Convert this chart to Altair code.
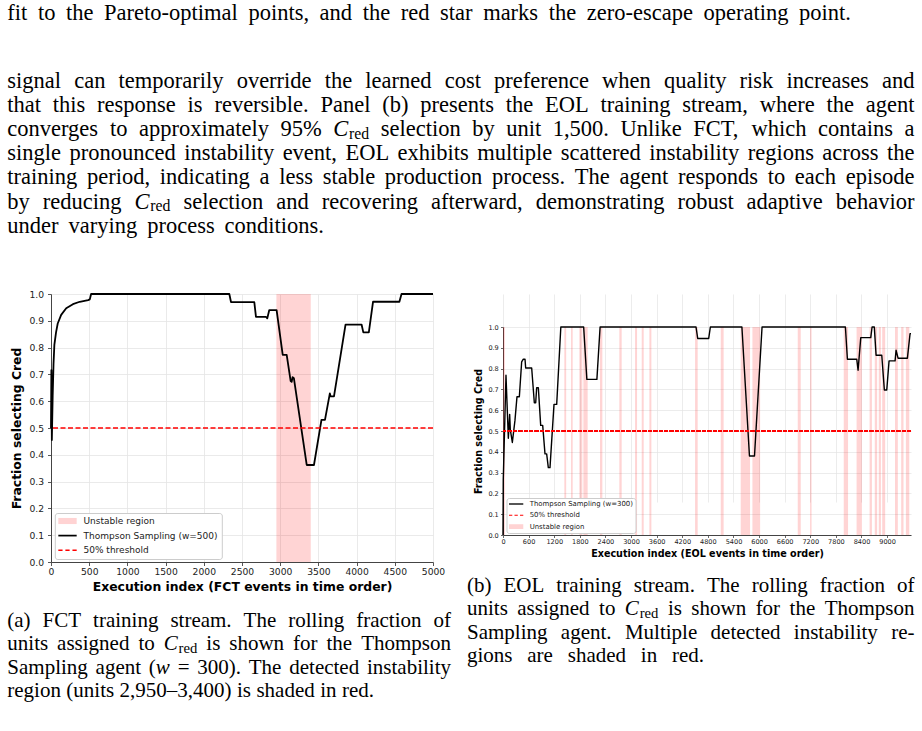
import altair as alt
import pandas as pd

# ---------------- data ----------------
fct_x = [0, 5, 11, 22, 33, 44, 66, 88, 133, 199, 287, 376, 486, 508, 525, 2334, 2356, 2661, 2683,
         2813, 2831, 2857, 2953, 3033, 3085, 3137, 3150, 3162, 3179, 3347, 3442, 3540, 3586, 3650,
         3660, 3704, 3855, 4065, 4088, 4160, 4215, 4560, 4588, 5000]
fct_y = [0.50, 0.716, 0.455, 0.62, 0.74, 0.81, 0.857, 0.89, 0.922, 0.947, 0.962, 0.971, 0.977, 0.98,
         1.0, 1.0, 0.97, 0.97, 0.915, 0.915, 0.909, 0.94, 0.94, 0.773, 0.773, 0.675, 0.672, 0.69,
         0.686, 0.362, 0.362, 0.530, 0.530, 0.629, 0.618, 0.618, 0.886, 0.886, 0.857, 0.857, 0.971,
         0.971, 1.0, 1.0]
fct_band_start = [2950]
fct_band_end = [3400]

eol_x = [0, 6, 70, 125, 156, 172, 219, 281, 328, 383, 437, 476, 516, 531, 672, 734, 766, 789, 828,
         883, 930, 984, 1023, 1062, 1101, 1195, 1258, 1355, 1890, 1965, 2200, 2275, 4523, 4562,
         4820, 4859, 5598, 5775, 5893, 6070, 8023, 8070, 8289, 8320, 8383, 8617, 8648, 8700, 8742,
         8875, 8936, 8992, 9046, 9187, 9210, 9257, 9476, 9538, 9560]
eol_y = [0.0, 0.265, 0.768, 0.465, 0.58, 0.505, 0.445, 0.552, 0.665, 0.665, 0.832, 0.845, 0.845,
         0.803, 0.803, 0.636, 0.636, 0.708, 0.708, 0.527, 0.527, 0.39, 0.39, 0.324, 0.324, 0.628,
         0.628, 1.0, 1.0, 0.748, 0.748, 1.0, 1.0, 0.945, 0.945, 1.0, 1.0, 0.38, 0.38, 1.0, 1.0,
         0.845, 0.845, 0.792, 0.949, 0.949, 1.0, 1.0, 0.864, 0.864, 0.697, 0.697, 0.837, 0.837,
         0.888, 0.850, 0.850, 0.968, 0.968]
eol_band_start = [0, 1437, 1594, 1789, 1883, 2273, 2726, 3094, 3250, 3430, 4500, 5102, 5570, 5844,
                  6906, 7195, 7984, 8285, 8590, 8711, 8805, 8885, 9185, 9330, 9440]
eol_band_end = [45, 1480, 1633, 1859, 1984, 2328, 2781, 3141, 3297, 3477, 4562, 5170, 5789, 6025,
                6977, 7230, 8085, 8410, 8645, 8766, 8855, 8955, 9252, 9385, 9520]

fct_xticks = [0, 500, 1000, 1500, 2000, 2500, 3000, 3500, 4000, 4500, 5000]
eol_xticks = [0, 600, 1200, 1800, 2400, 3000, 3600, 4200, 4800, 5400, 6000, 6600, 7200, 7800, 8400, 9000]
y_ticks = [0.0, 0.1, 0.2, 0.3, 0.4, 0.5, 0.6, 0.7, 0.8, 0.9, 1.0]
threshold = 0.5

fct_legend_labels = ["Unstable region", "Thompson Sampling (w=500)", "50% threshold"]
eol_legend_labels = ["Thompson Sampling (w=300)", "50% threshold", "Unstable region"]

x_title_fct = "Execution index (FCT events in time order)"
x_title_eol = "Execution index (EOL events in time order)"
y_title = "Fraction selecting Cred"

# text lines: (text, left x, right x, baseline, font size); "§C" = C_red, "§w" = italic w
PS, CS = 22.5, 21.0
para_lines = [
    ("fit to the Pareto-optimal points, and the red star marks the zero-escape operating point.", 7.3, 851, 20.0, PS),
    ("signal can temporarily override the learned cost preference when quality risk increases and", 7.3, 914.5, 87.5, PS),
    ("that this response is reversible. Panel (b) presents the EOL training stream, where the agent", 7.3, 914.5, 111.7, PS),
    ("converges to approximately 95% §C selection by unit 1,500. Unlike FCT, which contains a", 7.3, 914.5, 135.9, PS),
    ("single pronounced instability event, EOL exhibits multiple scattered instability regions across the", 7.3, 914.5, 160.1, PS),
    ("training period, indicating a less stable production process. The agent responds to each episode", 7.3, 914.5, 184.3, PS),
    ("by reducing §C selection and recovering afterward, demonstrating robust adaptive behavior", 7.3, 914.5, 208.5, PS),
    ("under varying process conditions.", 7.3, 324, 232.7, PS),
]
cap_a_lines = [
    ("(a) FCT training stream. The rolling fraction of", 7.3, 451, 627.0, CS),
    ("units assigned to §C is shown for the Thompson", 7.3, 451, 650.4, CS),
    ("Sampling agent (§w = 300). The detected instability", 7.3, 451, 673.8, CS),
    ("region (units 2,950–3,400) is shaded in red.", 7.3, 374, 697.2, CS),
]
cap_b_lines = [
    ("(b) EOL training stream. The rolling fraction of", 467, 914.5, 592.0, CS),
    ("units assigned to §C is shown for the Thompson", 467, 914.5, 615.4, CS),
    ("Sampling agent. Multiple detected instability re-", 467, 914.5, 638.8, CS),
    ("gions are shaded in red.", 467, 704, 662.2, CS),
]

# ---------------- layout constants ----------------
PAGE_W, PAGE_H = 922, 731
L_X0, L_Y0 = 51, 294          # page position of left plot origin
L_W, L_H = 382, 268
R_X0 = 503
R_W, R_H = 408, 241
R_TOP = 33                    # top of right plot inside its view

# ---------------- text layout helper (Times metrics) ----------------
TIMES = {' ': 250, '!': 333, '"': 408, '%': 833, '&': 778, "'": 333, '(': 333, ')': 333, ',': 250,
         '-': 333, '.': 250, '/': 278, ':': 278, ';': 278, '=': 564, '?': 444, '–': 500,
         'A': 722, 'B': 667, 'C': 667, 'D': 722, 'E': 611, 'F': 556, 'G': 722, 'H': 722, 'I': 333,
         'J': 389, 'K': 722, 'L': 611, 'M': 889, 'N': 722, 'O': 722, 'P': 556, 'Q': 722, 'R': 667,
         'S': 556, 'T': 611, 'U': 722, 'V': 722, 'W': 944, 'X': 722, 'Y': 722, 'Z': 611,
         'a': 444, 'b': 500, 'c': 444, 'd': 500, 'e': 444, 'f': 333, 'g': 500, 'h': 500, 'i': 278,
         'j': 278, 'k': 500, 'l': 278, 'm': 778, 'n': 500, 'o': 500, 'p': 500, 'q': 500, 'r': 333,
         's': 389, 't': 278, 'u': 500, 'v': 500, 'w': 722, 'x': 500, 'y': 500, 'z': 444}
TIMES_IT = {'C': 667, 'w': 667}
SUB = 0.7
SUB_KERN = 0.04   # small gap (em) between italic C and its subscript
SUB_DROP = 0.12   # subscript baseline drop (em)


def parse_word(word):
    segs = []
    parts = word.split("§")
    if parts[0]:
        segs.append((parts[0], "rm"))
    for p in parts[1:]:
        key, rest = p[0], p[1:]
        if key == "C":
            segs.append(("C", "it"))
            segs.append(("red", "sub"))
        else:
            segs.append((key, "it"))
        if rest:
            segs.append((rest, "rm"))
    return segs


def seg_w(txt, kind, size):
    if kind == "it":
        return sum(TIMES_IT.get(c, 500) for c in txt) * size / 1000
    s = size * SUB if kind == "sub" else size
    extra = SUB_KERN * size if kind == "sub" else 0
    return sum(TIMES.get(c, 500) for c in txt) * s / 1000 + extra


def text_rows(lines):
    rows = []
    for text, xa, xb, base, size in lines:
        words = [parse_word(w) for w in text.split(" ")]
        wl = [sum(seg_w(t, k, size) for t, k in segs) for segs in words]
        gap = (xb - xa - sum(wl)) / max(len(words) - 1, 1)
        x = xa
        for segs, w in zip(words, wl):
            cx = x
            for t, k in segs:
                fs = size * SUB if k == "sub" else size
                dy = size * SUB_DROP if k == "sub" else 0
                dx = SUB_KERN * size if k == "sub" else 0
                rows.append({"txt": t, "px": cx + dx - L_X0, "py": base + dy - L_Y0, "sz": fs, "kind": k})
                cx += seg_w(t, k, size)
            x += w + gap
    return pd.DataFrame(rows)


txt_df = text_rows(para_lines + cap_a_lines + cap_b_lines)

# ---------------- legend symbols ----------------
P_RECT = "M-2.04,-0.68H2.04V0.68H-2.04Z"
P_LINE = "M-2.04,-0.19H2.04V0.19H-2.04Z"
P_DASH = "M-2.04,-0.16H-1.1V0.16H-2.04Z M-0.47,-0.16H0.47V0.16H-0.47Z M1.1,-0.16H2.04V0.16H1.1Z"
PINK = "#ffd3d3"


def legend_layer(labels, colors, paths, size, font, lx, ly, pad, rowpad, soff, loff):
    leg = dict(title=None, orient="none", legendX=lx, legendY=ly, padding=pad,
               fillColor="white", strokeColor="#cccccc", cornerRadius=2.5,
               symbolSize=size, symbolStrokeWidth=0, symbolOffset=soff, labelOffset=loff,
               rowPadding=rowpad, labelFontSize=font, labelFont="DejaVu Sans", labelColor="#222",
               labelLimit=400, symbolOpacity=1)
    df = pd.DataFrame({"series": labels})
    return alt.Chart(df).transform_filter("false").mark_point(filled=True, opacity=1, strokeWidth=0).encode(
        color=alt.Color("series:N", scale=alt.Scale(domain=labels, range=colors), legend=alt.Legend(**leg)),
        shape=alt.Shape("series:N", scale=alt.Scale(domain=labels, range=paths), legend=alt.Legend(**leg)),
    )


def text_layers():
    enc = dict(x=alt.X("px:Q", scale=None, axis=None), y=alt.Y("py:Q", scale=None, axis=None),
               size=alt.Size("sz:Q", scale=None, legend=None), text="txt:N")
    rm = alt.Chart(txt_df).transform_filter("datum.kind != 'it'").mark_text(
        align="left", baseline="alphabetic", font="Liberation Serif", color="#000").encode(**enc)
    it = alt.Chart(txt_df).transform_filter("datum.kind == 'it'").mark_text(
        align="left", baseline="alphabetic", font="Liberation Serif", fontStyle="italic", color="#000").encode(**enc)
    return [rm, it]


# ---------------- left panel (FCT) ----------------
ax_l = dict(labelFont="DejaVu Sans", titleFont="DejaVu Sans", labelFontSize=9.2, titleFontSize=12.4,
            titleFontWeight="bold", labelColor="#222", titleColor="#000", tickColor="#444",
            domainColor="#444", tickSize=3.5, tickWidth=0.9, domainWidth=1, grid=True,
            gridColor="#e4e4e4", gridWidth=0.8, labelFlush=False, labelOverlap=False)
xs_l = alt.Scale(domain=[0, 5000], nice=False, zero=False)
ys_l = alt.Scale(domain=[0, 1], nice=False, zero=False)
axx_l = alt.Axis(title=x_title_fct, values=fct_xticks, format="d", labelPadding=2, titlePadding=3.5, **ax_l)
axy_l = alt.Axis(title=y_title, values=y_ticks, format=".1f", labelPadding=4, titlePadding=5, **ax_l)

fct_df = pd.DataFrame({"v": fct_x, "f": fct_y})
fct_band_df = pd.DataFrame({"start": fct_band_start, "end": fct_band_end})

l_band = alt.Chart(fct_band_df).mark_rect(color="#ff0000", opacity=0.17).encode(
    x=alt.X("start:Q", scale=xs_l, axis=axx_l), x2="end:Q",
    y=alt.YDatum(0.0, scale=ys_l, axis=axy_l), y2=alt.Y2Datum(1.0))
l_line = alt.Chart(fct_df).mark_line(color="black", strokeWidth=1.8, strokeJoin="round").encode(
    x=alt.X("v:Q", scale=xs_l, axis=axx_l), y=alt.Y("f:Q", scale=ys_l, axis=axy_l))
l_thr = alt.Chart(fct_band_df).mark_rule(color="#ff0000", strokeWidth=1.3, strokeDash=[5, 2.5]).encode(
    y=alt.YDatum(threshold, scale=ys_l, axis=axy_l))
l_leg = legend_layer(fct_legend_labels, [PINK, "#000000", "#ff0000"], [P_RECT, P_LINE, P_DASH],
                     81, 9, 3.8, 219, 3.5, 4.6, 4.7, 11.5)
anchor_tl = alt.Chart(fct_band_df).mark_rule(strokeOpacity=0).encode(
    x=alt.value(-L_X0), x2=alt.value(-L_X0 + 1), y=alt.value(-L_Y0))
anchor_br = alt.Chart(fct_band_df).mark_rule(strokeOpacity=0).encode(
    x=alt.value(PAGE_W - L_X0 - 1), x2=alt.value(PAGE_W - L_X0), y=alt.value(PAGE_H - L_Y0))

left = alt.layer(l_band, l_line, l_thr, l_leg, *text_layers(), anchor_tl, anchor_br).properties(
    width=L_W, height=L_H)

# ---------------- right panel (EOL) ----------------
ax_r = dict(ax_l)
ax_r.update(labelFontSize=6.55, titleFontSize=9.6, tickSize=2.5, tickWidth=0.8, gridWidth=0.7)
xs_r = alt.Scale(domain=[0, 9560], nice=False, zero=False)
ys_r = alt.Scale(domain=[0, 1], nice=False, zero=False, range=[R_H, R_TOP])
axx_r = alt.Axis(title=x_title_eol, values=eol_xticks, format="d", labelPadding=1.3, titlePadding=3.5, **ax_r)
axy_r = alt.Axis(title=y_title, values=y_ticks, format=".1f", labelPadding=2.2, titlePadding=4.8, **ax_r)

eol_df = pd.DataFrame({"v": eol_x, "f": eol_y})
eol_band_df = pd.DataFrame({"start": eol_band_start, "end": eol_band_end})

r_band = alt.Chart(eol_band_df).mark_rect(color="#ff0000", opacity=0.17).encode(
    x=alt.X("start:Q", scale=xs_r, axis=axx_r), x2="end:Q",
    y=alt.YDatum(0.0, scale=ys_r, axis=axy_r), y2=alt.Y2Datum(1.0))
r_line = alt.Chart(eol_df).mark_line(color="black", strokeWidth=1.4, strokeJoin="round").encode(
    x=alt.X("v:Q", scale=xs_r, axis=axx_r), y=alt.Y("f:Q", scale=ys_r, axis=axy_r))
r_thr = alt.Chart(eol_band_df).mark_rule(color="#ff0000", strokeWidth=1.0, strokeDash=[3.6, 1.8]).encode(
    y=alt.YDatum(threshold, scale=ys_r, axis=axy_r))
r_leg = legend_layer(eol_legend_labels, ["#000000", "#ff0000", PINK], [P_LINE, P_DASH, P_RECT],
                     49, 6.94, 3.5, 204, 2.5, 3.3, 3.64, 10)

right = alt.layer(r_band, r_line, r_thr, r_leg).properties(width=R_W, height=R_H)

chart = alt.HConcatChart(hconcat=[left, right], spacing=R_X0 - L_X0 - L_W, bounds="flush").resolve_scale(
    x="independent", y="independent", color="independent", shape="independent"
).resolve_legend(color="independent", shape="independent").properties(
    padding=0, background="white"
).configure_view(stroke=None)

chart.save("out.html", embed_options={"renderer": "svg", "actions": False})
